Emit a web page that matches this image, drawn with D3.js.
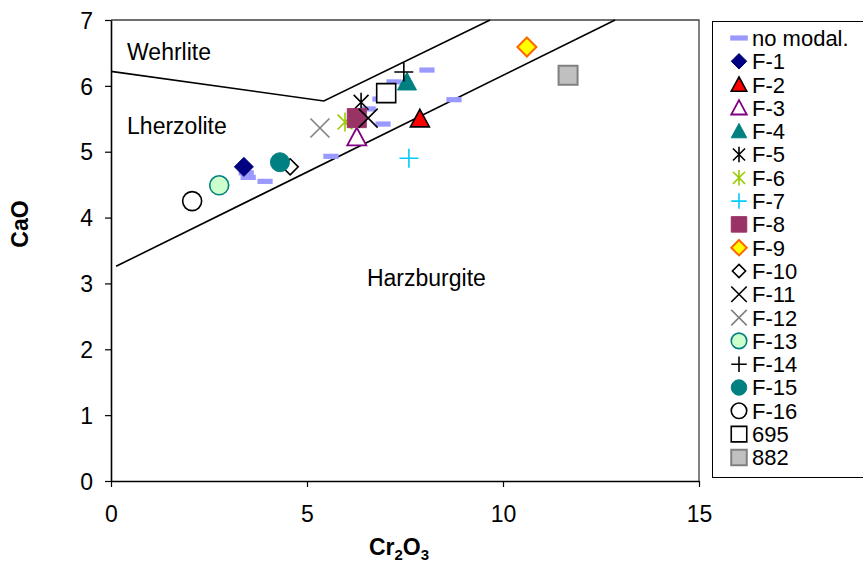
<!DOCTYPE html>
<html>
<head>
<meta charset="utf-8">
<script src="https://cdn.jsdelivr.net/npm/d3@7"></script>
<style>
  html, body { margin: 0; padding: 0; background: #fff; }
  svg { display: block; font-family: "Liberation Sans", Arial, sans-serif; }
</style>
</head>
<body>
<svg id="chart" width="863" height="566"></svg>
<script>
// Axis ticks
const xTicks = [0, 5, 10, 15];
const yTicks = [0, 1, 2, 3, 4, 5, 6, 7];

// Analyses without modal data (Cr2O3, CaO)
const noModalCr = [3.45, 3.50, 3.93, 5.61, 6.56, 6.86, 6.94, 7.22, 8.06, 8.75];
const noModalCa = [4.68, 4.61, 4.55, 4.93, 5.65, 5.80, 5.42, 6.06, 6.24, 5.79];

// Individual samples
const sampleNames = ["F-1", "F-2", "F-3", "F-4", "F-5", "F-6", "F-7", "F-8", "F-9",
  "F-10", "F-11", "F-12", "F-13", "F-14", "F-15", "F-16", "695", "882"];
const sampleCr = [3.39, 7.88, 6.27, 7.55, 6.38, 5.97, 7.60, 6.27, 10.61,
  4.57, 6.56, 5.33, 2.76, 7.47, 4.31, 2.07, 7.02, 11.66];
const sampleCa = [4.77, 5.50, 5.22, 6.06, 5.75, 5.45, 4.90, 5.51, 6.59,
  4.77, 5.51, 5.36, 4.49, 6.21, 4.84, 4.25, 5.89, 6.16];

// Field boundaries (Cr2O3, CaO)
const wehrliteLine = [[0, 6.22], [5.43, 5.77], [9.67, 7.0]];
const harzburgiteLine = [[0.13, 3.26], [12.86, 7.0]];

// Field names
const fieldNames = ["Wehrlite", "Lherzolite", "Harzburgite"];
const fieldAnchors = [[0.41, 6.39], [0.41, 5.27], [6.53, 2.96]];

// Marker appearance for each series
const markerStyle = {
  "no modal.": { shape: "dash", fill: "#9999ff", stroke: "none", sw: 0 },
  "F-1":  { shape: "diamond",  fill: "#000080", stroke: "#000080", sw: 1 },
  "F-2":  { shape: "triangle", fill: "#ff0000", stroke: "#000000", sw: 1.6 },
  "F-3":  { shape: "triangle", fill: "#ffffff", stroke: "#800080", sw: 1.8 },
  "F-4":  { shape: "triangle", fill: "#008080", stroke: "#008080", sw: 1 },
  "F-5":  { shape: "star",     fill: "none",    stroke: "#000000", sw: 1.6 },
  "F-6":  { shape: "star",     fill: "none",    stroke: "#99cc00", sw: 1.6 },
  "F-7":  { shape: "plus",     fill: "none",    stroke: "#00ccff", sw: 1.6 },
  "F-8":  { shape: "square",   fill: "#993366", stroke: "#993366", sw: 1 },
  "F-9":  { shape: "diamond",  fill: "#ffff00", stroke: "#ff6600", sw: 2 },
  "F-10": { shape: "diamond",  fill: "#ffffff", stroke: "#000000", sw: 1.6, scale: 0.85 },
  "F-11": { shape: "cross",    fill: "none",    stroke: "#000000", sw: 1.6 },
  "F-12": { shape: "cross",    fill: "none",    stroke: "#808080", sw: 1.6 },
  "F-13": { shape: "circle",   fill: "#ccffcc", stroke: "#008080", sw: 1.6 },
  "F-14": { shape: "plus",     fill: "none",    stroke: "#000000", sw: 1.6 },
  "F-15": { shape: "circle",   fill: "#008080", stroke: "#008080", sw: 1 },
  "F-16": { shape: "circle",   fill: "#ffffff", stroke: "#000000", sw: 1.6 },
  "695":  { shape: "square",   fill: "#ffffff", stroke: "#000000", sw: 1.6 },
  "882":  { shape: "square",   fill: "#c0c0c0", stroke: "#808080", sw: 2 }
};

const FONT = "23px";
const LEGEND_FONT = "22px";

const svg = d3.select("#chart");
const margin = { left: 111, top: 20, right: 699, bottom: 481 };

const x = d3.scaleLinear().domain([0, 15]).range([margin.left, margin.right]);
const y = d3.scaleLinear().domain([0, 7]).range([margin.bottom, margin.top]);

// Path for a marker of full width s centred on (0,0)
function markerPath(shape, s) {
  const h = s / 2;
  switch (shape) {
    case "diamond":  return `M0,${-h}L${h},0L0,${h}L${-h},0Z`;
    case "triangle": return `M0,${-h}L${h},${h * 0.85}L${-h},${h * 0.85}Z`;
    case "square":   return `M${-h},${-h}H${h}V${h}H${-h}Z`;
    case "circle":   return `M${h},0A${h},${h} 0 1,1 ${-h},0A${h},${h} 0 1,1 ${h},0Z`;
    case "cross":    return `M${-h},${-h}L${h},${h}M${h},${-h}L${-h},${h}`;
    case "plus":     return `M${-h},0H${h}M0,${-h}V${h}`;
    case "star": {
      const d = h * 0.78;
      return `M${-d},${-d}L${d},${d}M${d},${-d}L${-d},${d}M0,${-h}V${h}`;
    }
    case "dash": {
      const w = s * 0.8, t = 2.6;
      return `M${-w / 2},${-t}H${w / 2}V${t}H${-w / 2}Z`;
    }
  }
  return "";
}

function drawMarker(g, name, cx, cy, size) {
  const st = markerStyle[name];
  const s = size * (st.scale || 1);
  g.append("path")
    .attr("transform", `translate(${cx},${cy})`)
    .attr("d", markerPath(st.shape, s))
    .attr("fill", st.fill)
    .attr("stroke", st.stroke)
    .attr("stroke-width", st.sw)
    .attr("stroke-linejoin", "miter");
}

// Plot frame (top and right sides)
svg.append("path")
  .attr("d", `M${margin.left},${margin.top}H${margin.right}V${margin.bottom}`)
  .attr("fill", "none")
  .attr("stroke", "#404040")
  .attr("stroke-width", 1.3);

// Axes
const xAxis = d3.axisBottom(x).tickValues(xTicks).tickFormat(d3.format("d"))
  .tickSize(6).tickPadding(19).tickSizeOuter(0);
const yAxis = d3.axisLeft(y).tickValues(yTicks).tickFormat(d3.format("d"))
  .tickSize(6).tickPadding(12).tickSizeOuter(0);

const gx = svg.append("g").attr("transform", `translate(0,${margin.bottom})`).call(xAxis);
const gy = svg.append("g").attr("transform", `translate(${margin.left},0)`).call(yAxis);
[gx, gy].forEach(g => {
  g.select(".domain").attr("stroke", "#000").attr("stroke-width", 1.6);
  g.selectAll(".tick line").attr("stroke", "#000").attr("stroke-width", 1.2);
  g.selectAll(".tick text")
    .attr("fill", "#000")
    .style("font-family", "'Liberation Sans', Arial, sans-serif")
    .style("font-size", FONT);
});
gy.selectAll(".tick text").attr("dy", "0.36em");

// Field boundaries
const line = d3.line().x(d => x(d[0])).y(d => y(d[1]));
[wehrliteLine, harzburgiteLine].forEach(pts => {
  svg.append("path")
    .attr("d", line(pts))
    .attr("fill", "none")
    .attr("stroke", "#000")
    .attr("stroke-width", 1.6);
});

// Field labels
fieldNames.forEach((n, i) => {
  svg.append("text")
    .attr("x", x(fieldAnchors[i][0]))
    .attr("y", y(fieldAnchors[i][1]))
    .attr("font-size", FONT)
    .attr("fill", "#000")
    .text(n);
});

// Data points
const marks = svg.append("g");
noModalCr.forEach((cr, i) => drawMarker(marks, "no modal.", x(cr), y(noModalCa[i]), 19));
sampleNames.forEach((n, i) => drawMarker(marks, n, x(sampleCr[i]), y(sampleCa[i]), 19));

// Axis titles
svg.append("text")
  .attr("x", 399).attr("y", 555)
  .attr("text-anchor", "middle")
  .attr("font-size", FONT).attr("font-weight", "bold")
  .call(t => {
    t.append("tspan").text("Cr");
    t.append("tspan").attr("font-size", "15px").attr("dy", 5).text("2");
    t.append("tspan").attr("dy", -5).text("O");
    t.append("tspan").attr("font-size", "15px").attr("dy", 5).text("3");
  });

svg.append("text")
  .attr("transform", "translate(28,224) rotate(-90)")
  .attr("text-anchor", "middle")
  .attr("font-size", FONT).attr("font-weight", "bold")
  .text("CaO");

// Legend
const legendNames = ["no modal."].concat(sampleNames);
const legend = svg.append("g");
legend.append("rect")
  .attr("x", 712.5).attr("y", 21.5)
  .attr("width", 160).attr("height", 456)
  .attr("fill", "#fff")
  .attr("stroke", "#000").attr("stroke-width", 1);

legendNames.forEach((n, i) => {
  const cy = 38 + i * 23.3;
  // the dash symbol is drawn wider in the key than the point symbols
  drawMarker(legend, n, 739, cy, n === "no modal." ? 22 : 15.5);
  legend.append("text")
    .attr("x", 752).attr("y", cy)
    .attr("dy", "0.36em")
    .attr("font-size", LEGEND_FONT)
    .attr("fill", "#000")
    .text(n);
});
</script>
</body>
</html>
